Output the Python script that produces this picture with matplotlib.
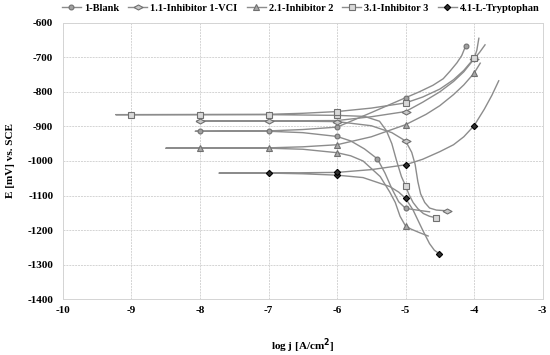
import matplotlib
matplotlib.use("Agg")
import matplotlib.pyplot as plt
from matplotlib.ticker import FixedLocator, FuncFormatter

plt.rcParams['font.family'] = ['Liberation Serif', 'DejaVu Serif']
plt.rcParams['font.weight'] = 'bold'
plt.rcParams['axes.unicode_minus'] = False

# ---------------- data (log j, E [mV]) ----------------
# each series: cathodic branch from its end back to the flat part, then anodic branch
blank_x = [-4.65, -4.8, -5.0, -5.1, -5.2, -5.3, -5.41, -5.6, -5.8, -6.0, -6.5, -7.0, -8.0, -8.07,
           -7.0, -6.5, -6.0, -5.5, -5.0, -4.8, -4.6, -4.45, -4.35, -4.25, -4.18, -4.12]
blank_E = [-1147, -1143, -1137, -1118, -1080, -1035, -994, -965, -942, -929, -918, -914, -914, -914,
           -913, -909, -902, -860, -817, -800, -781, -762, -740, -716, -695, -666]
blank_marks = [2, 6, 9, 11, 12, 16, 18, 25]

vci_x = [-4.40, -4.55, -4.65, -4.72, -4.78, -4.82, -4.86, -4.91, -5.0, -5.2, -5.5, -6.0, -7.0, -8.0, -8.04,
         -7.0, -6.0, -5.5, -5.0, -4.75, -4.5, -4.3, -4.15, -4.0, -3.92, -3.84]
vci_E = [-1144, -1142, -1136, -1120, -1095, -1060, -1010, -975, -942, -918, -898, -886, -884, -884, -884,
         -884, -883, -872, -857, -830, -800, -770, -742, -705, -686, -664]
vci_marks = [0, 8, 11, 12, 13, 18, 23]

inh2_x = [-4.67, -4.8, -4.92, -5.0, -5.08, -5.15, -5.23, -5.37, -5.62, -5.8, -6.0, -6.5, -7.0, -8.0, -8.5,
          -7.0, -6.5, -6.0, -5.5, -5.0, -4.7, -4.5, -4.3, -4.15, -4.0, -3.91]
inh2_E = [-1217, -1207, -1197, -1188, -1160, -1120, -1090, -1045, -1000, -985, -976, -966, -963, -963, -963,
          -962, -959, -953, -930, -895, -865, -840, -808, -780, -746, -717]
inh2_marks = [3, 10, 12, 13, 17, 19, 24]

inh3_x = [-4.56, -4.65, -4.74, -4.82, -4.89, -4.95, -5.0, -5.06, -5.13, -5.2, -5.28, -5.38, -5.6, -6.0,
          -7.0, -8.0, -9.0, -9.23,
          -7.0, -6.5, -6.0, -5.5, -5.0, -4.75, -4.5, -4.3, -4.15, -4.0, -3.96, -3.93]
inh3_E = [-1164, -1160, -1152, -1138, -1120, -1097, -1072, -1045, -1000, -950, -912, -885, -871, -868,
          -866, -866, -866, -866,
          -865, -862, -857, -847, -832, -815, -792, -765, -738, -703, -680, -645]
inh3_marks = [0, 6, 13, 14, 15, 16, 20, 22, 27]

trp_x = [-4.51, -4.58, -4.65, -4.75, -4.89, -5.0, -5.1, -5.23, -5.62, -6.0, -6.5, -7.0, -7.72,
         -7.0, -6.0, -5.5, -5.0, -4.75, -4.5, -4.3, -4.15, -4.0, -3.85, -3.74, -3.64]
trp_E = [-1268, -1258, -1239, -1200, -1142, -1108, -1090, -1074, -1048, -1041, -1037, -1035, -1035,
         -1035, -1033, -1025, -1011, -995, -973, -953, -930, -898, -850, -810, -768]
trp_marks = [0, 5, 9, 11, 14, 16, 21]

labels = ['1-Blank', '1.1-Inhibitor 1-VCI', '2.1-Inhibitor 2', '3.1-Inhibitor 3', '4.1-L-Tryptophan']
x_ticks = [-10, -9, -8, -7, -6, -5, -4, -3]
y_ticks = [-600, -700, -800, -900, -1000, -1100, -1200, -1300, -1400]

# ---------------- figure ----------------
fig = plt.figure(figsize=(5.5, 3.55), dpi=100)
ax = fig.add_axes([0.1145, 0.157, 0.872, 0.779])

line_col = '#8c8c8c'
wide_diamond = [(-1, 0), (0, 0.55), (1, 0), (0, -0.55), (-1, 0)]

styles = [
    dict(marker='o', ms=3.5, mfc='#a0a0a0', mec='#707070'),
    dict(marker=wide_diamond, ms=6.5, mfc='#c8c8c8', mec='#707070'),
    dict(marker='^', ms=4, mfc='#a8a8a8', mec='#707070'),
    dict(marker='s', ms=4, mfc='#d8d8d8', mec='#707070'),
    dict(marker='D', ms=3.2, mfc='#303030', mec='#000000'),
]
series = [(blank_x, blank_E, blank_marks), (vci_x, vci_E, vci_marks), (inh2_x, inh2_E, inh2_marks),
          (inh3_x, inh3_E, inh3_marks), (trp_x, trp_E, trp_marks)]

handles = []
for (xs, es, mk), st, lab in zip(series, styles, labels):
    h, = ax.plot(xs, es, color=line_col, lw=1.0, markevery=mk, mew=0.8, label=lab,
                 solid_joinstyle='round', **st)
    handles.append(h)

ax.set_xlim(-10, -3)
ax.set_ylim(-1400, -600)
ax.xaxis.set_major_locator(FixedLocator(x_ticks))
ax.yaxis.set_major_locator(FixedLocator(y_ticks))
ax.xaxis.set_major_formatter(FuncFormatter(lambda v, p: f"{int(round(v))}"))
ax.yaxis.set_major_formatter(FuncFormatter(lambda v, p: f"{int(round(v))}"))
ax.tick_params(axis='both', length=0, labelsize=8)
ax.tick_params(axis='y', pad=7)
ax.tick_params(axis='x', pad=5)
ax.grid(True, color='#d4d4d4', lw=0.7, ls=(0, (2, 1)))
ax.set_axisbelow(True)
for s in ax.spines.values():
    s.set_color('#d4d4d4')
    s.set_linewidth(0.7)

ax.set_xlabel('log j [A/cm$^{\\mathbf{2}}$]', fontsize=8, fontweight='bold', labelpad=15)
ax.set_ylabel('E [mV] vs. SCE', fontsize=8, fontweight='bold', labelpad=9)

fig.legend(handles=handles, labels=labels, loc='center', bbox_to_anchor=(0.547, 0.977), ncol=5,
           frameon=False, fontsize=7.5, handlelength=1.8, columnspacing=0.9, handletextpad=0.3,
           borderpad=0, borderaxespad=0)

fig.savefig('out.png', dpi=100)
